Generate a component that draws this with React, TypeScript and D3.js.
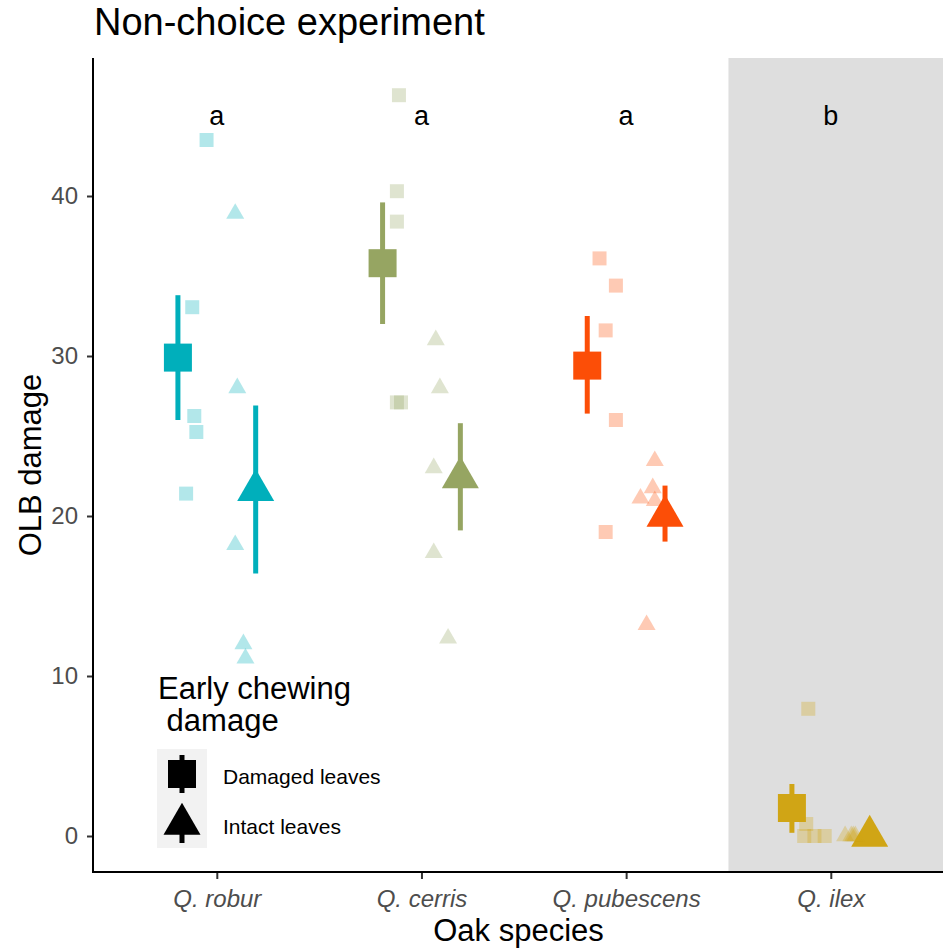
import * as d3 from 'd3'
import { useEffect, useRef } from 'react'

const W = 943
const H = 949
const panel = { left: 94, right: 953.6, top: 58, bottom: 872 }

const species = ['Q. robur', 'Q. cerris', 'Q. pubescens', 'Q. ilex']
const letters = ['a', 'a', 'a', 'b']
const colors = ['#00AFBB', '#96A562', '#FC4E07', '#D0A515']
const yTicks = [0, 10, 20, 30, 40]

// means with error bars (damaged / intact leaves)
const damagedMean = [29.9, 35.8, 29.4, 1.75]
const damagedLow = [26.0, 32.0, 26.4, 0.2]
const damagedHigh = [33.8, 39.6, 32.5, 3.25]
const intactMean = [21.6, 22.4, 20.0, 0.0]
const intactLow = [16.4, 19.1, 18.4, 0.0]
const intactHigh = [26.9, 25.8, 21.9, 0.0]

// raw observations, with their jitter (fraction of category step)
const damagedPts = [
  [43.5, 33.05, 26.25, 25.25, 21.4],
  [46.3, 40.3, 38.4, 27.1, 27.1],
  [36.1, 34.4, 31.6, 26.0, 19.0],
  [7.95, 0.75, 0, 0, 0],
]
const damagedJit = [
  [-0.05, -0.12, -0.11, -0.1, -0.15],
  [-0.11, -0.12, -0.12, -0.12, -0.1],
  [-0.13, -0.05, -0.1, -0.05, -0.1],
  [-0.11, -0.12, -0.13, -0.08, -0.03],
]
const intactPts = [
  [38.9, 28.0, 18.2, 12.0, 11.1],
  [31.0, 28.0, 23.0, 17.7, 12.35],
  [23.45, 21.75, 21.1, 20.95, 13.2],
  [0, 0, 0, 0],
]
const intactJit = [
  [0.09, 0.1, 0.09, 0.13, 0.14],
  [0.07, 0.09, 0.06, 0.06, 0.13],
  [0.14, 0.13, 0.07, 0.14, 0.1],
  [0.07, 0.1, 0.11, 0.12],
]

const font = '"Liberation Sans", Arial, sans-serif'
const dodge = 0.19

// R pch 17 style triangle centred on its circumcentre
function tri(cx: number, cy: number, w: number) {
  const r = w / Math.sqrt(3)
  return `M${cx},${cy - r}L${cx + w / 2},${cy + r / 2}L${cx - w / 2},${cy + r / 2}Z`
}

export default function App() {
  const ref = useRef<SVGSVGElement>(null)

  useEffect(() => {
    const svg = d3.select(ref.current)
    svg.selectAll('*').remove()

    const x = d3.scalePoint().domain(species).range([panel.left, panel.right]).padding(0.6)
    const step = x.step()
    const y = d3.scaleLinear().domain([0, 40]).range([836, 196])

    // shaded panel for Q. ilex
    svg
      .append('rect')
      .attr('x', x('Q. ilex')! - step / 2)
      .attr('y', panel.top)
      .attr('width', W)
      .attr('height', panel.bottom - panel.top)
      .attr('fill', '#DEDEDE')

    // axes
    const yAxis = d3.axisLeft(y).tickValues(yTicks).tickSize(6).tickPadding(9)
    const gy = svg.append('g').attr('transform', `translate(${panel.left - 1},0)`).call(yAxis)
    gy.select('.domain').remove()
    gy.selectAll('line').attr('stroke', '#333').attr('stroke-width', 2)
    gy.selectAll('text').attr('fill', '#4D4D4D').style('font-size', '24px').style('font-family', font)

    const xAxis = d3.axisBottom(x).tickSize(7).tickPadding(6)
    const gx = svg.append('g').attr('transform', `translate(0,${panel.bottom})`).call(xAxis)
    gx.select('.domain').remove()
    gx.selectAll('line').attr('stroke', '#333').attr('stroke-width', 2)
    gx.selectAll('text')
      .attr('fill', '#4D4D4D')
      .attr('dy', '0.9em')
      .style('font-size', '24px')
      .style('font-style', 'italic')
      .style('font-family', font)

    svg.append('line').attr('x1', panel.left - 1).attr('x2', panel.left - 1)
      .attr('y1', panel.top).attr('y2', panel.bottom + 1).attr('stroke', 'black').attr('stroke-width', 2)
    svg.append('line').attr('x1', panel.left - 2).attr('x2', W)
      .attr('y1', panel.bottom).attr('y2', panel.bottom).attr('stroke', 'black').attr('stroke-width', 2)

    const g = svg.append('g')

    species.forEach((sp, i) => {
      const cx = x(sp)!
      const col = colors[i]

      // error bars
      const bars = [
        [cx - dodge * step, damagedLow[i], damagedHigh[i]],
        [cx + dodge * step, intactLow[i], intactHigh[i]],
      ]
      bars.forEach(([bx, lo, hi]) => {
        if (hi > lo)
          g.append('line').attr('x1', bx).attr('x2', bx).attr('y1', y(lo)).attr('y2', y(hi))
            .attr('stroke', col).attr('stroke-width', 5)
      })

      // means
      const ms = 28
      g.append('rect')
        .attr('x', cx - dodge * step - ms / 2)
        .attr('y', y(damagedMean[i]) - ms / 2)
        .attr('width', ms)
        .attr('height', ms)
        .attr('fill', col)
      g.append('path').attr('d', tri(cx + dodge * step, y(intactMean[i]), 37)).attr('fill', col)

      // raw points
      damagedPts[i].forEach((v, j) => {
        g.append('rect')
          .attr('x', cx + damagedJit[i][j] * step - 7)
          .attr('y', y(v) - 7)
          .attr('width', 14)
          .attr('height', 14)
          .attr('fill', col)
          .attr('fill-opacity', 0.3)
      })
      intactPts[i].forEach((v, j) => {
        g.append('path')
          .attr('d', tri(cx + intactJit[i][j] * step, y(v), 18))
          .attr('fill', col)
          .attr('fill-opacity', 0.3)
      })

      // significance letters
      svg.append('text')
        .attr('x', cx)
        .attr('y', y(45))
        .attr('dy', '0.35em')
        .attr('text-anchor', 'middle')
        .style('font-size', '27px')
        .style('font-family', font)
        .text(letters[i])
    })

    // titles
    svg.append('text').attr('x', 94).attr('y', 35).style('font-size', '38px').style('font-family', font)
      .text('Non-choice experiment')
    svg.append('text').attr('x', (panel.left + W) / 2).attr('y', 941).attr('text-anchor', 'middle')
      .style('font-size', '31px').style('font-family', font).text('Oak species')
    svg.append('text')
      .attr('transform', `translate(41,${(panel.top + panel.bottom) / 2}) rotate(-90)`)
      .attr('text-anchor', 'middle')
      .style('font-size', '31px')
      .style('font-family', font)
      .text('OLB damage')

    // legend
    const lg = svg.append('g')
    lg.append('text').attr('x', 158).attr('y', 699).style('font-size', '31px').style('font-family', font)
      .text('Early chewing')
    lg.append('text').attr('x', 158).attr('y', 731).style('font-size', '31px').style('font-family', font)
      .attr('xml:space', 'preserve').text(' damage')
    lg.append('rect').attr('x', 157).attr('y', 749).attr('width', 50).attr('height', 99).attr('fill', '#F2F2F2')
    const kx = 182
    lg.append('line').attr('x1', kx).attr('x2', kx).attr('y1', 755).attr('y2', 793).attr('stroke', 'black').attr('stroke-width', 5)
    lg.append('rect').attr('x', kx - 14).attr('y', 760).attr('width', 28).attr('height', 28).attr('fill', 'black')
    lg.append('line').attr('x1', kx).attr('x2', kx).attr('y1', 810).attr('y2', 843).attr('stroke', 'black').attr('stroke-width', 5)
    lg.append('path').attr('d', tri(kx, 824, 37)).attr('fill', 'black')
    lg.append('text').attr('x', 223).attr('y', 784).style('font-size', '21px').style('font-family', font)
      .text('Damaged leaves')
    lg.append('text').attr('x', 223).attr('y', 834).style('font-size', '21px').style('font-family', font)
      .text('Intact leaves')
  }, [])

  return (
    <svg
      ref={ref}
      width={W}
      height={H}
      style={{ position: 'absolute', left: 0, top: 0, background: 'white' }}
    />
  )
}
